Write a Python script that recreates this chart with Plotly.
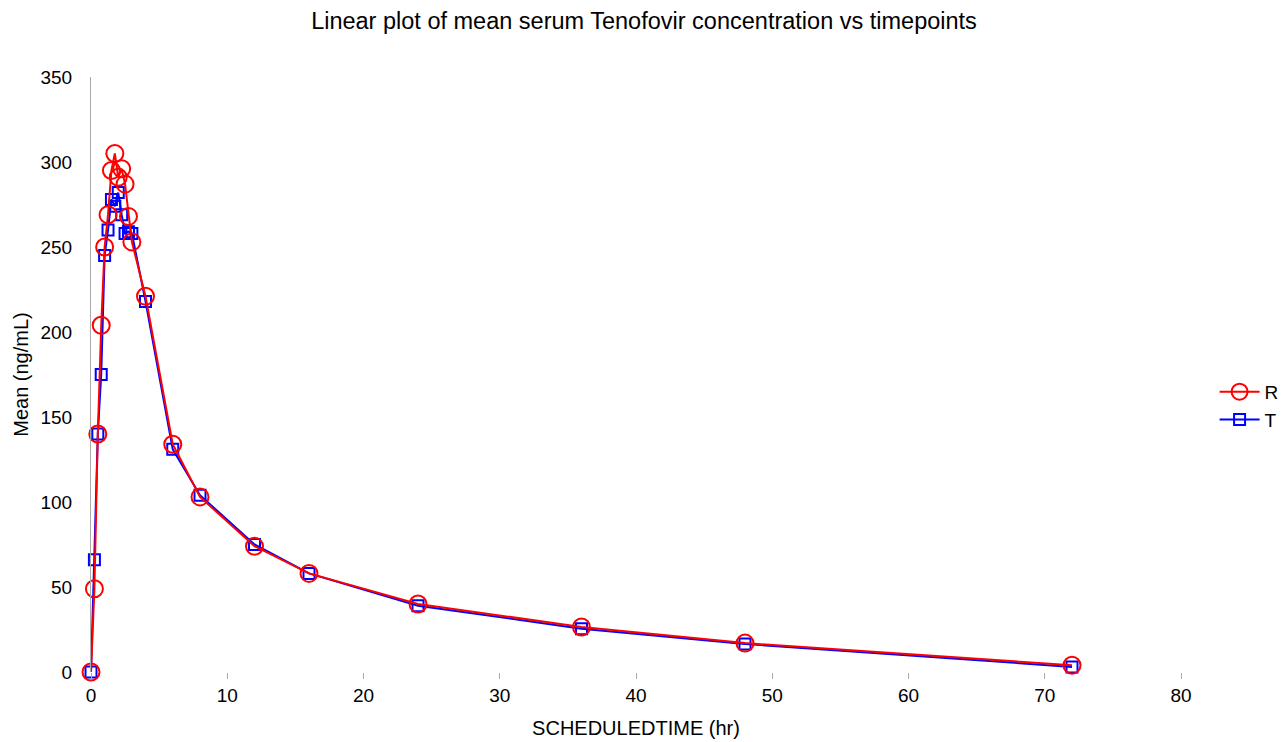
import plotly.graph_objects as go

# Scheduled sampling times (hr)
times = [0, 0.25, 0.5, 0.75, 1, 1.25, 1.5, 1.75, 2, 2.25, 2.5, 2.75, 3,
         4, 6, 8, 12, 16, 24, 36, 48, 72]

# Mean serum Tenofovir concentration (ng/mL)
mean_r = [0, 49, 140, 204, 250, 269, 295, 305, 291, 296, 287, 268, 253,
          221, 134, 103, 74, 58, 40, 26.5, 17, 4]
mean_t = [0, 66, 140, 175, 245, 260, 278, 274, 282, 269, 258, 259, 258,
          218, 131, 104, 75, 58, 39, 25.5, 16.5, 3]

x_ticks = [0, 10, 20, 30, 40, 50, 60, 70, 80]
y_ticks = [0, 50, 100, 150, 200, 250, 300, 350]

FONT = "Liberation Sans, Arial, sans-serif"

fig = go.Figure()
fig.add_trace(go.Scatter(
    x=times, y=mean_t, name="T", mode="lines+markers",
    line=dict(color="#0000ff", width=2),
    marker=dict(symbol="square-open", size=11, color="#0000ff",
                line=dict(width=2, color="#0000ff")),
    cliponaxis=False,
))
fig.add_trace(go.Scatter(
    x=times, y=mean_r, name="R", mode="lines+markers",
    line=dict(color="#ff0000", width=2),
    marker=dict(symbol="circle-open", size=17, color="#ff0000",
                line=dict(width=2, color="#ff0000")),
    cliponaxis=False,
))

fig.update_layout(
    width=1288, height=742,
    paper_bgcolor="white", plot_bgcolor="white",
    font=dict(family=FONT, size=19, color="#000000"),
    title=dict(text="Linear plot of mean serum Tenofovir concentration vs timepoints",
               x=0.5, xanchor="center", y=0.972, yanchor="middle",
               font=dict(size=23.5, color="#000000")),
    margin=dict(l=91, r=107, t=77, b=70, autoexpand=False),
    showlegend=True,
    legend=dict(x=0.943, y=0.453, xref="container", yref="container",
                xanchor="left", yanchor="middle",
                traceorder="reversed", font=dict(size=19),
                bgcolor="rgba(0,0,0,0)", itemwidth=40, tracegroupgap=6),
    xaxis=dict(
        range=[0, 80], tickvals=x_ticks, showgrid=False, zeroline=False,
        showline=False, ticks="outside", ticklen=6, tickcolor="#aaaaaa",
        automargin=False,
        tickfont=dict(size=19), title=dict(text="SCHEDULEDTIME (hr)",
                                           font=dict(size=20), standoff=16),
    ),
    yaxis=dict(
        range=[0, 350], tickvals=y_ticks, showgrid=False, zeroline=False,
        showline=True, linecolor="#aaaaaa", linewidth=1, ticks="",
        automargin=False,
        ticklabelstandoff=14, tickfont=dict(size=19),
        title=dict(text="Mean (ng/mL)", font=dict(size=20), standoff=6),
    ),
)

fig.write_html("out.html")
